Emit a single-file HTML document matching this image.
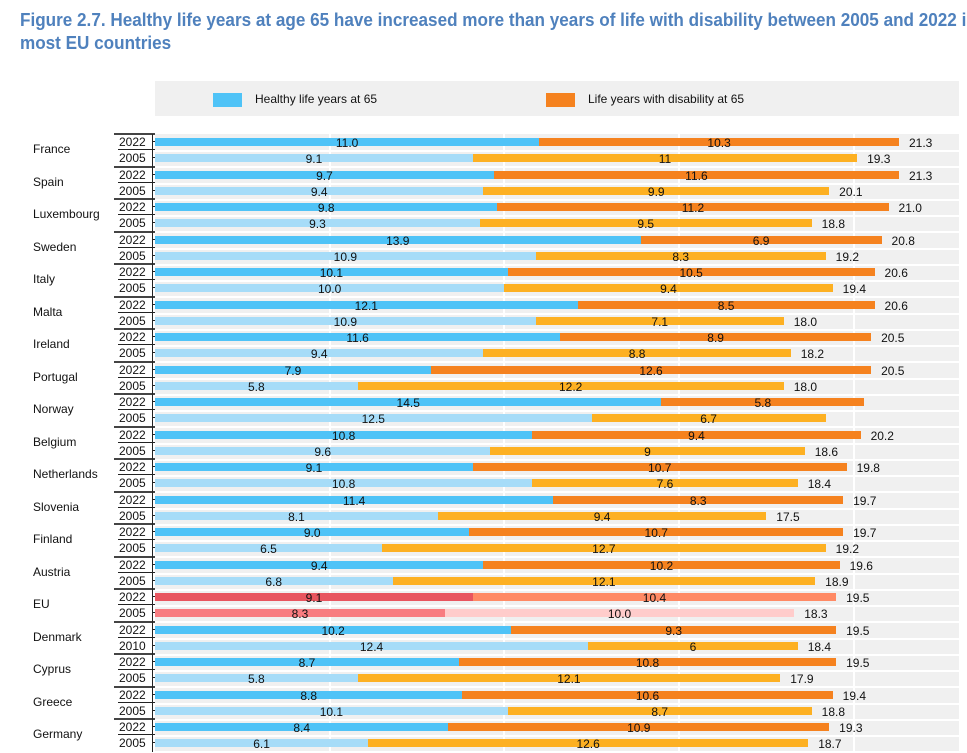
<!DOCTYPE html>
<html><head><meta charset="utf-8"><style>
body{margin:0;width:967px;height:752px;overflow:hidden;background:#fff;font-family:"Liberation Sans",Arial,sans-serif;position:relative}
.t{position:absolute;left:20px;color:#4f81bd;font-weight:bold;font-size:18.5px;white-space:nowrap;transform-origin:0 0;transform:scaleX(0.925)}
.a{position:absolute}
.l{position:absolute;font-size:12px;color:#111;white-space:nowrap;line-height:12px}
</style></head><body>
<div class="t" style="top:9px">Figure 2.7. Healthy life years at age 65 have increased more than years of life with disability between 2005 and 2022 in</div>
<div class="t" style="top:32px">most EU countries</div>
<div class="a" style="left:155px;top:81px;width:804px;height:35px;background:#f0f0f0"></div>
<div class="a" style="left:213px;top:93px;width:29px;height:14px;background:#4fc3f7"></div>
<div class="l" style="left:255px;top:93px">Healthy life years at 65</div>
<div class="a" style="left:546px;top:93px;width:29px;height:14px;background:#f5821f"></div>
<div class="l" style="left:588px;top:93px">Life years with disability at 65</div>
<div class="a" style="left:155px;top:134px;width:804px;height:618px;background:#f0f0f0"></div>
<div id="c"></div>
<script>
var D=[["France","2022",11.0,10.3,"21.3","2005",9.1,11,"19.3"],
["Spain","2022",9.7,11.6,"21.3","2005",9.4,9.9,"20.1"],
["Luxembourg","2022",9.8,11.2,"21.0","2005",9.3,9.5,"18.8"],
["Sweden","2022",13.9,6.9,"20.8","2005",10.9,8.3,"19.2"],
["Italy","2022",10.1,10.5,"20.6","2005",10.0,9.4,"19.4"],
["Malta","2022",12.1,8.5,"20.6","2005",10.9,7.1,"18.0"],
["Ireland","2022",11.6,8.9,"20.5","2005",9.4,8.8,"18.2"],
["Portugal","2022",7.9,12.6,"20.5","2005",5.8,12.2,"18.0"],
["Norway","2022",14.5,5.8,"","2005",12.5,6.7,""],
["Belgium","2022",10.8,9.4,"20.2","2005",9.6,9,"18.6"],
["Netherlands","2022",9.1,10.7,"19.8","2005",10.8,7.6,"18.4"],
["Slovenia","2022",11.4,8.3,"19.7","2005",8.1,9.4,"17.5"],
["Finland","2022",9.0,10.7,"19.7","2005",6.5,12.7,"19.2"],
["Austria","2022",9.4,10.2,"19.6","2005",6.8,12.1,"18.9"],
["EU","2022",9.1,10.4,"19.5","2005",8.3,10.0,"18.3"],
["Denmark","2022",10.2,9.3,"19.5","2010",12.4,6,"18.4"],
["Cyprus","2022",8.7,10.8,"19.5","2005",5.8,12.1,"17.9"],
["Greece","2022",8.8,10.6,"19.4","2005",10.1,8.7,"18.8"],
["Germany","2022",8.4,10.9,"19.3","2005",6.1,12.6,"18.7"]];
var S=34.93,X=155,h='';
for(var g=5;g<=20;g+=5)h+='<div class="a" style="left:'+(X+g*S-1)+'px;top:134px;width:2px;height:618px;background:#fff"></div>';
function fmt(v,i,r,k){
 if((i==0&&r==1&&k==1)||(i==9&&r==1&&k==1)||(i==15&&r==1&&k==1))return String(v);
 return v.toFixed(1);}
D.forEach(function(d,i){
 var y0=142+i*32.5;
 h+='<div class="l" style="left:33px;top:'+(y0+1)+'px">'+d[0]+'</div>';
 h+='<div class="a" style="left:114px;top:'+(y0-9)+'px;width:41px;height:2px;background:#444"></div>';
 h+='<div class="a" style="left:118px;top:'+(y0+7)+'px;width:37px;height:1px;background:#222"></div>';
 for(var r=0;r<2;r++){
  var yc=y0+r*16.25,yr=d[1+r*4],a=d[2+r*4],b=d[3+r*4],t=d[4+r*4];
  var eu=d[0]=="EU";
  var c1=eu?(r?"#f87c80":"#e8555f"):(r?"#a6dcf8":"#4fc3f7");
  var c2=eu?(r?"#ffcccb":"#ff8a65"):(r?"#fdb022":"#f5821f");
  h+='<div class="a" style="left:155px;top:'+(yc+8)+'px;width:804px;height:2px;background:#fff"></div>';
  h+='<div class="l" style="left:119px;top:'+(yc-6)+'px">'+yr+'</div>';
  h+='<div class="a" style="left:152px;top:'+(yc-1)+'px;width:3px;height:1px;background:#222"></div>';
  var w1=a*S,w2=b*S;
  h+='<div class="a" style="left:'+X+'px;top:'+(yc-4)+'px;width:'+w1+'px;height:8px;background:'+c1+'"></div>';
  h+='<div class="a" style="left:'+(X+w1)+'px;top:'+(yc-4)+'px;width:'+w2+'px;height:8px;background:'+c2+'"></div>';
  h+='<div class="l" style="left:'+(X+w1/2-20)+'px;width:40px;text-align:center;top:'+(yc-5)+'px">'+fmt(a,i,r,0)+'</div>';
  h+='<div class="l" style="left:'+(X+w1+w2/2-20)+'px;width:40px;text-align:center;top:'+(yc-5)+'px">'+fmt(b,i,r,1)+'</div>';
  if(t)h+='<div class="l" style="left:'+(X+w1+w2+10)+'px;top:'+(yc-5)+'px">'+t+'</div>';
 }
});
h+='<div class="a" style="left:152px;top:134px;width:1px;height:618px;background:#222"></div>';
document.getElementById('c').innerHTML=h;
</script>
</body></html>
